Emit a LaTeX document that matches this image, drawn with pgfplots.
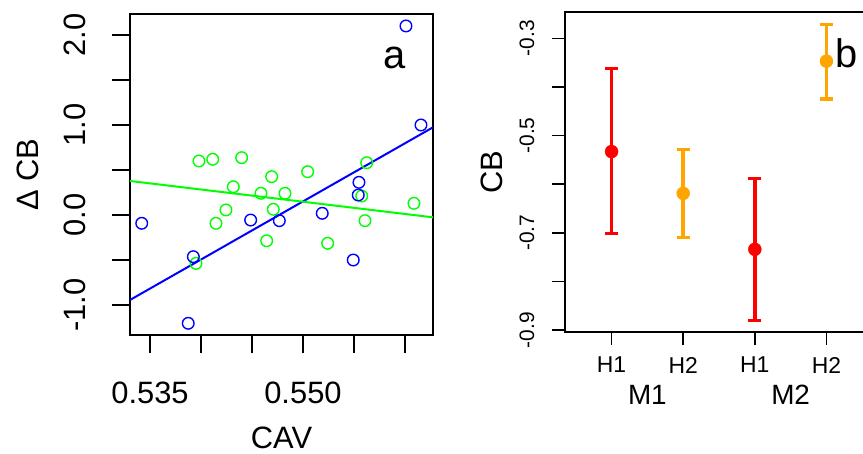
\documentclass[border=0pt]{standalone}
\usepackage{fontspec}
\setmainfont{Liberation Sans}
\usepackage{pgfplots}
\pgfplotsset{compat=1.18}
\definecolor{rblue}{RGB}{0,0,255}
\definecolor{rgreen}{RGB}{0,255,0}
\definecolor{rred}{RGB}{255,0,0}
\definecolor{rorange}{RGB}{255,165,0}
\begin{document}
\begin{tikzpicture}
\begin{axis}[
  at={(130bp,119bp)}, anchor=south west,
  scale only axis, width=303bp, height=321bp,
  xmin=0.53304, xmax=0.56275, ymin=-1.333, ymax=2.233,
  axis line style={line width=1.5bp},
  tick align=outside, major tick length=18bp,
  every tick/.style={line width=1.5bp, black},
  xtick={0.535,0.540,0.545,0.550,0.555,0.560},
  xticklabels={0.535,,,0.550,,},
  ytick={-1,-0.5,0,0.5,1,1.5,2},
  yticklabels={-1.0,,0.0,,1.0,,2.0},
  xtick pos=bottom, ytick pos=left,
  xticklabel style={font=\fontsize{31}{36}\selectfont, anchor=center, yshift=-40bp},
  yticklabel style={font=\fontsize{31}{36}\selectfont, rotate=90, anchor=center, yshift=37bp},
  xlabel={CAV}, ylabel={Δ CB},
  xlabel style={font=\fontsize{31}{36}\selectfont, at={(axis description cs:0.5,0)}, anchor=center, yshift=-103bp},
  ylabel style={font=\fontsize{31}{36}\selectfont, at={(axis description cs:0,0.5)}, anchor=center, yshift=102bp},
  mark size=5.8bp,
]
\addplot[only marks, mark=o, rgreen, mark options={line width=1.4bp}] coordinates {
(0.53980,0.600) (0.54115,0.619) (0.54399,0.637) (0.54317,0.314) (0.54245,0.056)
(0.54147,-0.092) (0.53951,-0.537) (0.54588,0.241) (0.54693,0.426) (0.54824,0.241)
(0.54709,0.063) (0.54644,-0.286) (0.55046,0.481) (0.55242,-0.314) (0.55625,0.581)
(0.55576,0.211) (0.55608,-0.063) (0.56088,0.130) (0.56316,0.759)
};
\addplot[only marks, mark=o, rblue, mark options={line width=1.4bp}] coordinates {
(0.53419,-0.092) (0.53875,-1.203) (0.53925,-0.463) (0.54487,-0.056) (0.54768,-0.063)
(0.55189,0.019) (0.55493,-0.500) (0.55549,0.363) (0.55542,0.222) (0.56157,1.000)
(0.56010,2.100)
};
\addplot[rblue, line width=2bp] coordinates {(0.53304,-0.944) (0.56275,0.974)};
\addplot[rgreen, line width=2bp] coordinates {(0.53304,0.378) (0.56275,-0.026)};
\node[font=\fontsize{40}{44}\selectfont, anchor=base] at (axis cs:0.55902,1.63) {a};
\end{axis}
\begin{axis}[
  at={(565bp,122bp)}, anchor=south west,
  scale only axis, width=308bp, height=320bp,
  xmin=0.35, xmax=4.65, ymin=-0.904, ymax=-0.246,
  axis line style={line width=1.5bp},
  tick align=outside, major tick length=13bp,
  every tick/.style={line width=1.5bp, black},
  xtick pos=bottom, ytick pos=left,
  xtick={1,2,3,4}, xticklabels={H1,H2,H1,H2},
  extra x ticks={1.5,3.5}, extra x tick labels={M1,M2},
  extra x tick style={major tick length=0pt, xticklabel style={font=\fontsize{28}{32}\selectfont, yshift=-43bp}},
  ytick={-0.9,-0.8,-0.7,-0.6,-0.5,-0.4,-0.3},
  yticklabels={-0.9,,-0.7,,-0.5,,-0.3},
  xticklabel style={font=\fontsize{23}{27}\selectfont, anchor=center, yshift=-20bp},
  yticklabel style={font=\fontsize{21}{25}\selectfont, rotate=90, anchor=center, yshift=25bp},
  ylabel={CB},
  ylabel style={font=\fontsize{31}{36}\selectfont, at={(axis description cs:0,0.5)}, anchor=center, yshift=73bp},
  clip=false,
]
\addplot[rred, only marks, mark=*, mark size=6.5bp,
  error bars/.cd, y dir=both, y explicit,
  error bar style={line width=3.5bp, rred},
  error mark options={rotate=90, mark size=6.5bp, line width=3.2bp, rred}]
  coordinates {(1,-0.533) +=(0,0.171) -=(0,0.168) (3,-0.734) +=(0,0.145) -=(0,0.146)};
\addplot[rorange, only marks, mark=*, mark size=6.5bp,
  error bars/.cd, y dir=both, y explicit,
  error bar style={line width=3.5bp, rorange},
  error mark options={rotate=90, mark size=6.5bp, line width=3.2bp, rorange}]
  coordinates {(2,-0.619) +=(0,0.091) -=(0,0.091) (4,-0.347) +=(0,0.076) -=(0,0.078)};
\node[font=\fontsize{40}{44}\selectfont, anchor=base] at (axis cs:4.279,-0.361) {b};
\end{axis}
\pgfresetboundingbox
\useasboundingbox (0,0) rectangle (863bp,454bp);
\end{tikzpicture}
\end{document}
